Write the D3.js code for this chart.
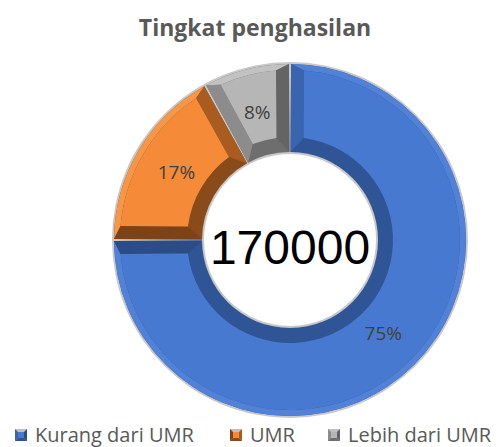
<!DOCTYPE html>
<html>
<head>
<meta charset="utf-8">
<script src="https://cdn.jsdelivr.net/npm/d3@7"></script>
<style>
  body { margin: 0; background: #fff; }
  svg { display: block; }
</style>
</head>
<body>
<div id="chart"></div>
<script>
// data
var categories = ["Kurang dari UMR", "UMR", "Lebih dari UMR"];
var values = [75, 17, 8];
var labels = ["75%", "17%", "8%"];
var centerLabel = "170000";
var title = "Tingkat penghasilan";

// shades per slice: face, outer rim, inner rim, start side, end side
var shades = [
  {face: "#4879d1", outer: "#5182d8", inner: "#2f5597", start: "#3a64ad", end: "#2b4c86"},
  {face: "#f58b38", outer: "#f69748", inner: "#8a4b1b", start: "#7d4317", end: "#a85c1f"},
  {face: "#b6b6b6", outer: "#c2c2c2", inner: "#6e6e6e", start: "#8c8c8c", end: "#646464"}
];

var width = 500, height = 447;
var cx = 290, cy = 240;
var r0 = 88, r1 = 176;
var bo = 6, bi = 15, bs = 13;

var svg = d3.select("#chart")
  .append("svg")
    .attr("width", width)
    .attr("height", height);

svg.append("text")
  .attr("x", 255)
  .attr("y", 36)
  .attr("text-anchor", "middle")
  .attr("font-family", "Open Sans")
  .attr("font-weight", "bold")
  .attr("font-size", "23px")
  .attr("fill", "#595959")
  .text(title);

var pie = d3.pie().sort(null).value(function(d) { return d; });
var arcs = pie(values);

var g = svg.append("g")
  .attr("transform", "translate(" + cx + "," + cy + ")");

function pt(r, a) { return [r * Math.sin(a), -r * Math.cos(a)]; }

// region between two radii, following the angles at each radius
function band(ra, a0, a1, rb, b0, b1) {
  var p = d3.path();
  var s = pt(ra, a0);
  p.moveTo(s[0], s[1]);
  p.arc(0, 0, ra, a0 - Math.PI / 2, a1 - Math.PI / 2, false);
  var e = pt(rb, b1);
  p.lineTo(e[0], e[1]);
  p.arc(0, 0, rb, b1 - Math.PI / 2, b0 - Math.PI / 2, true);
  p.closePath();
  return p.toString();
}
function quad(a, b, c, d) {
  return "M" + a + "L" + b + "L" + c + "L" + d + "Z";
}

// outline / shadow
g.append("path")
  .attr("d", d3.arc().innerRadius(r0 - 2).outerRadius(r1 + 2)({startAngle: 0, endAngle: 2 * Math.PI}))
  .attr("fill", "#c8c8c8");

arcs.forEach(function(d, i) {
  var sh = shades[i];
  var pad = 0.006;
  var s = d.startAngle + pad, e = d.endAngle - pad;
  var ro = r1 - bo, ri = r0 + bi;
  var dso = bs / ro, dsi = bs / ri;
  var slice = g.append("g");
  // whole slice in inner shade
  slice.append("path").attr("d", band(r1, s, e, r0, s, e)).attr("fill", sh.inner);
  // outer rim
  slice.append("path").attr("d", band(r1, s, e, ro, s + dso, e - dso)).attr("fill", sh.outer);
  // start side
  slice.append("path")
    .attr("d", quad(pt(r1, s), pt(ro, s + dso), pt(ri, s + dsi), pt(r0, s)))
    .attr("fill", sh.start);
  // end side
  slice.append("path")
    .attr("d", quad(pt(r1, e), pt(ro, e - dso), pt(ri, e - dsi), pt(r0, e)))
    .attr("fill", sh.end);
  // top face
  slice.append("path").attr("d", band(ro, s + dso, e - dso, ri, s + dsi, e - dsi)).attr("fill", sh.face);
});

var labelArc = d3.arc().innerRadius(r0).outerRadius(r1);
g.selectAll("text.pct")
  .data(arcs)
  .enter()
  .append("text")
    .attr("class", "pct")
    .attr("x", function(d) { return labelArc.centroid(d)[0]; })
    .attr("y", function(d) { return labelArc.centroid(d)[1]; })
    .attr("dy", "0.35em")
    .attr("text-anchor", "middle")
    .attr("font-family", "Open Sans")
    .attr("font-size", "19px")
    .attr("fill", "#404040")
    .text(function(d, i) { return labels[i]; });

g.append("text")
  .attr("x", 0)
  .attr("y", 7)
  .attr("dy", "0.35em")
  .attr("text-anchor", "middle")
  .attr("font-family", "Liberation Sans")
  .attr("font-size", "48px")
  .attr("fill", "#000")
  .text(centerLabel);

// legend
var legendX = [15, 230, 328];
var lg = svg.append("g");
categories.forEach(function(c, i) {
  var item = lg.append("g").attr("transform", "translate(" + legendX[i] + ",429)");
  item.append("rect").attr("width", 12).attr("height", 12).attr("fill", "#c0c0c0");
  item.append("path").attr("d", "M0,0L3,3L3,9L0,12Z").attr("fill", shades[i].start);
  item.append("path").attr("d", "M0,12L3,9L9,9L12,12Z").attr("fill", shades[i].inner);
  item.append("path").attr("d", "M12,0L9,3L9,9L12,12Z").attr("fill", shades[i].end);
  item.append("rect").attr("x", 3).attr("y", 3).attr("width", 6).attr("height", 6).attr("fill", shades[i].face);
  item.append("text")
    .attr("x", 20)
    .attr("y", 6)
    .attr("dy", "0.35em")
    .attr("font-family", "Open Sans")
    .attr("font-size", "20px")
    .attr("fill", "#595959")
    .text(c);
});
</script>
</body>
</html>
